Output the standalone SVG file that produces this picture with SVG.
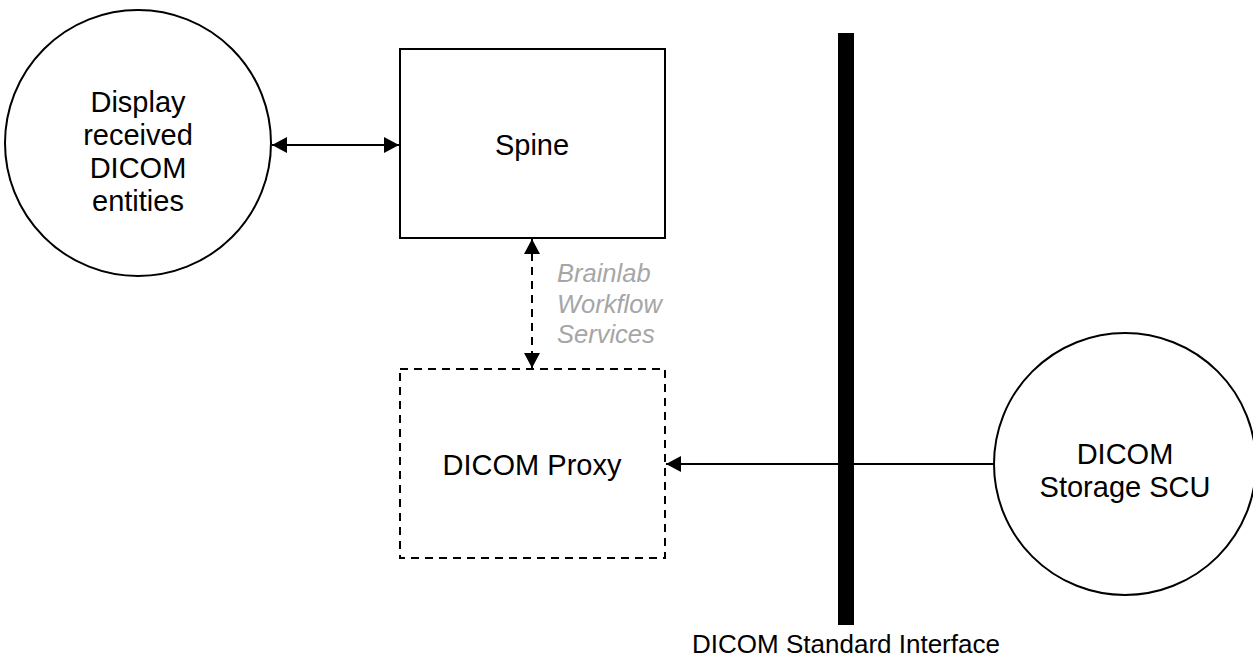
<svg xmlns="http://www.w3.org/2000/svg" width="1253" height="658" viewBox="0 0 1253 658">
<style>
.shape{fill:#fff;stroke:#000;stroke-width:2}
.dash{stroke-dasharray:8 6}
.lbl{font-family:"Liberation Sans",Arial,sans-serif;font-size:29px;fill:#000;text-anchor:middle}
.note{font-family:"Liberation Sans",Arial,sans-serif;font-size:25.5px;font-style:italic;fill:#a6a6a6}
.conn{fill:none;stroke:#000;stroke-width:2}
</style>
<defs>
<marker id="ah" markerUnits="userSpaceOnUse" markerWidth="16" markerHeight="16" refX="15" refY="8" orient="auto-start-reverse" viewBox="0 0 16 16">
<path d="M0,0 L15,8 L0,16 z" fill="#000"/>
</marker>
</defs>
<g id="display">
<circle class="shape" cx="138" cy="143" r="133"/>
<text class="lbl" x="138" y="112">Display</text>
<text class="lbl" x="138" y="145">received</text>
<text class="lbl" x="138" y="178">DICOM</text>
<text class="lbl" x="138" y="211">entities</text>
</g>
<g id="spine">
<rect class="shape" x="400" y="49" width="265" height="189"/>
<text class="lbl" x="532" y="155">Spine</text>
</g>
<g id="proxy">
<rect class="shape dash" x="400" y="369" width="265" height="189"/>
<text class="lbl" x="532" y="475">DICOM Proxy</text>
</g>
<g id="interface">
<rect x="838" y="33" width="16" height="592" fill="#000"/>
<text class="lbl" x="846" y="653" style="font-size:26px">DICOM Standard Interface</text>
</g>
<g id="scu">
<circle class="shape" cx="1125" cy="464" r="131"/>
<text class="lbl" x="1125" y="464">DICOM</text>
<text class="lbl" x="1125" y="497">Storage SCU</text>
</g>
<g id="connectors">
<line class="conn" x1="272" y1="145" x2="399" y2="145" marker-start="url(#ah)" marker-end="url(#ah)"/>
<line class="conn dash" x1="532" y1="239" x2="532" y2="368" marker-start="url(#ah)" marker-end="url(#ah)"/>
<line class="conn" x1="994" y1="464" x2="666" y2="464" marker-end="url(#ah)"/>
<text class="note" x="557" y="282">Brainlab</text>
<text class="note" x="557" y="313">Workflow</text>
<text class="note" x="557" y="343">Services</text>
</g>
</svg>
